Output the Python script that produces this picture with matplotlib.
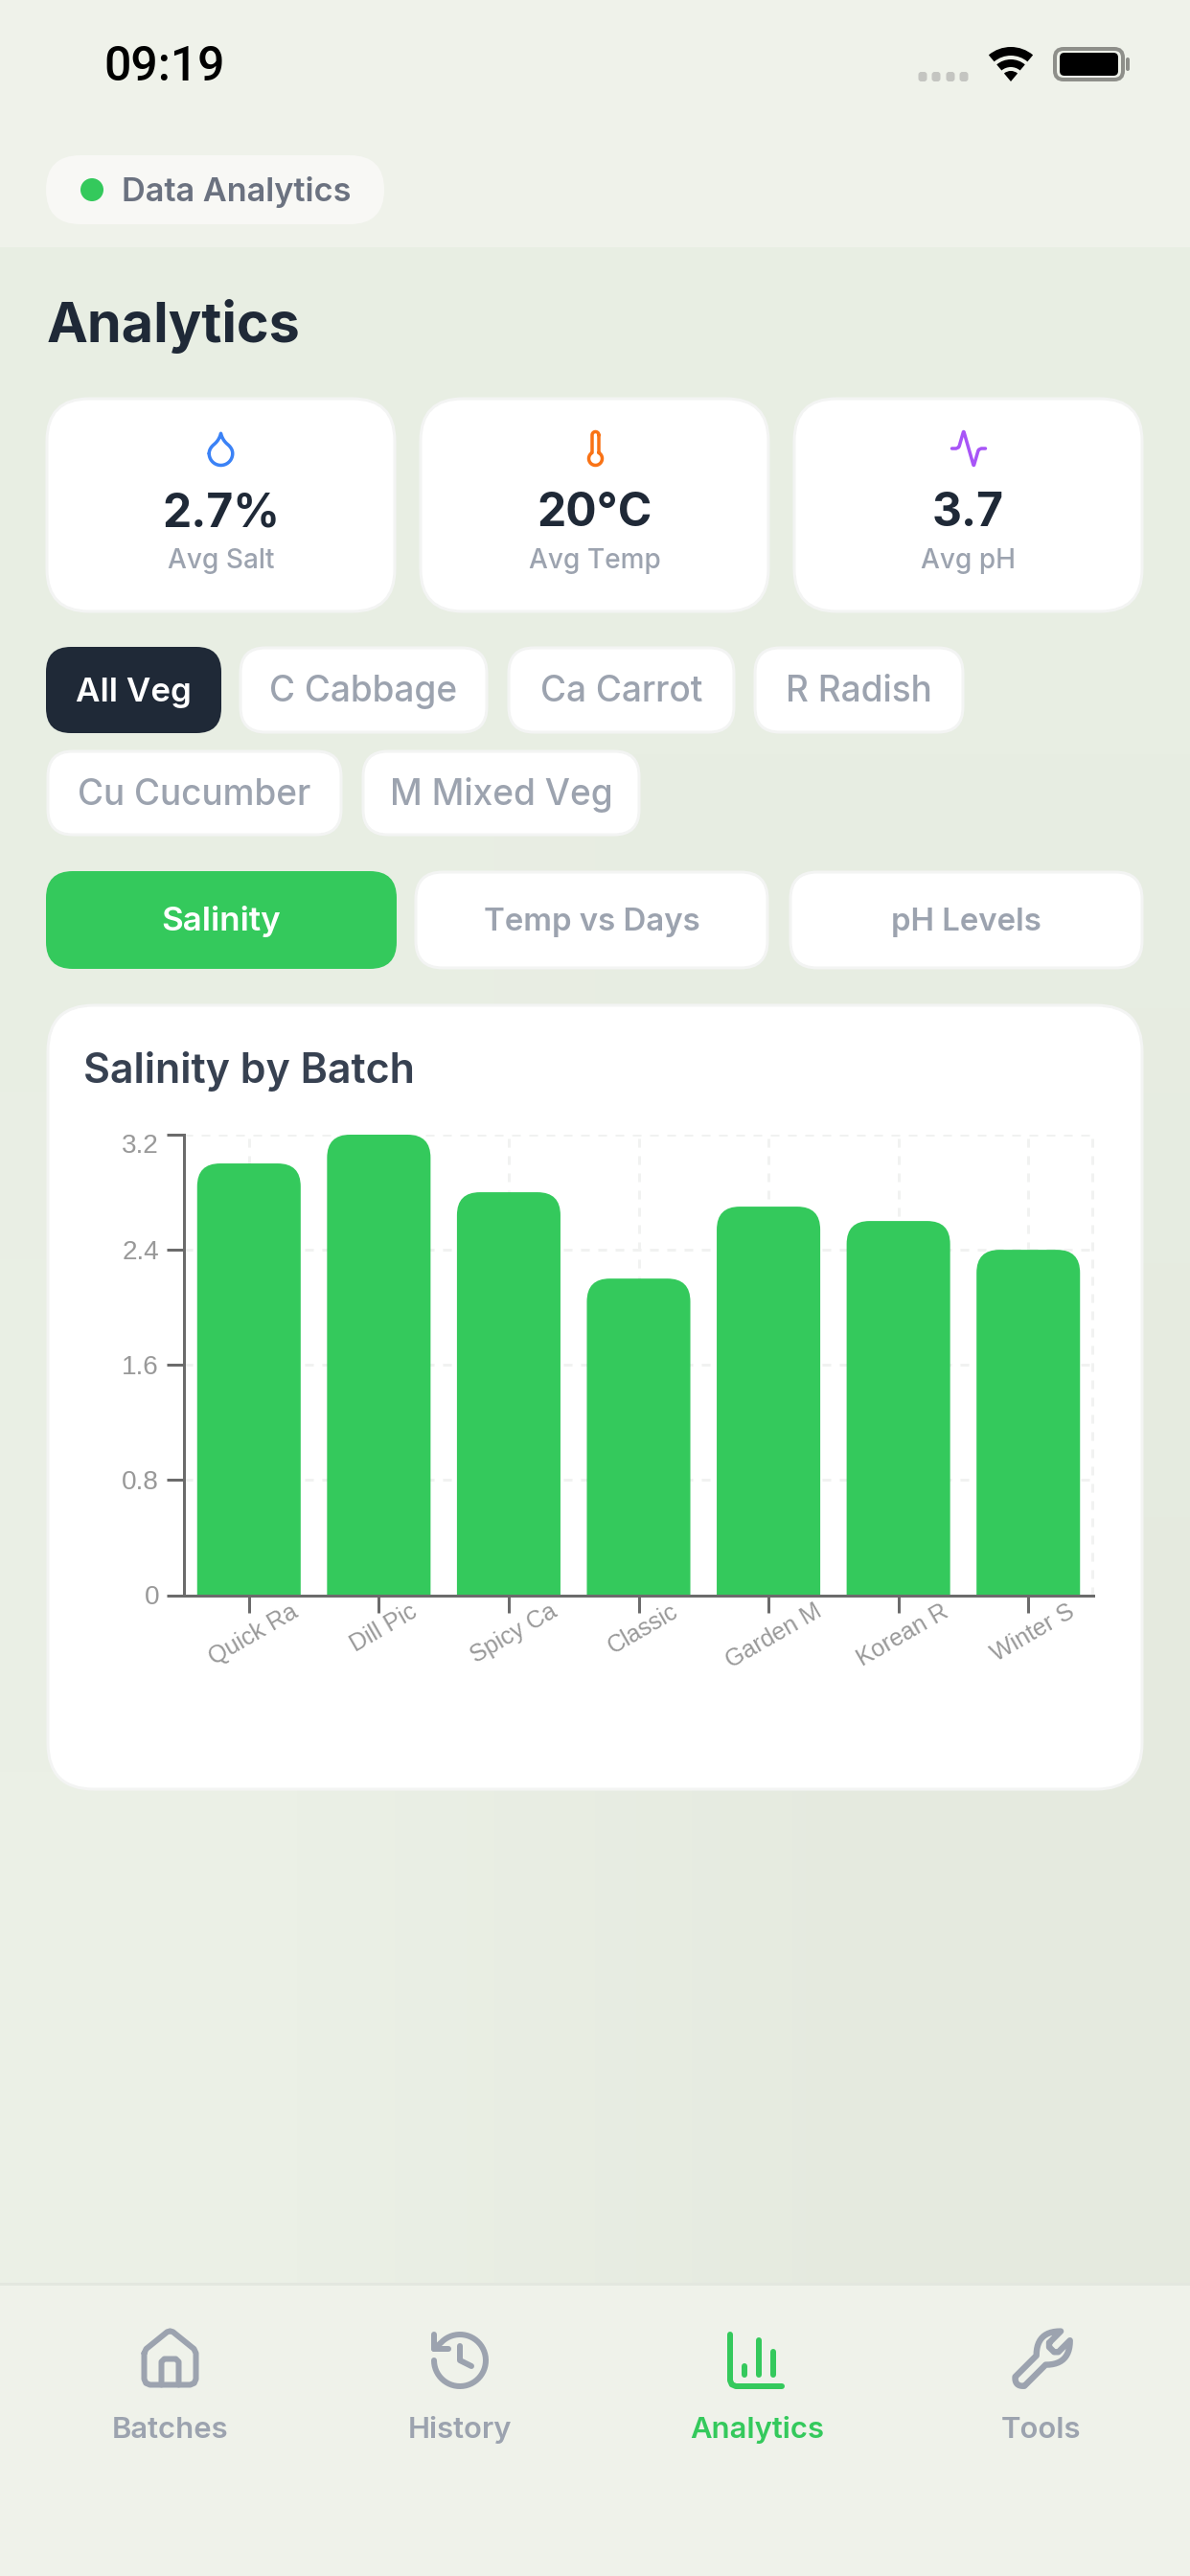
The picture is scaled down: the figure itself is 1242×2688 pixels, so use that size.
import numpy as np
import matplotlib
matplotlib.use('Agg')
import matplotlib.pyplot as plt
from matplotlib.patches import FancyBboxPatch, Circle, Wedge, PathPatch
from matplotlib.path import Path
from matplotlib.transforms import ScaledTranslation

# chart data
batches = ['Quick Ra', 'Dill Pic', 'Spicy Ca', 'Classic', 'Garden M', 'Korean R', 'Winter S']
salinity = [3.0, 3.2, 2.8, 2.2, 2.7, 2.6, 2.4]
y_ticks = [0, 0.8, 1.6, 2.4, 3.2]
y_tick_labels = ['0', '0.8', '1.6', '2.4', '3.2']

# ui text
stat_values = ['2.7%', '20°C', '3.7']
stat_labels = ['Avg Salt', 'Avg Temp', 'Avg pH']
veg_filters = ['All Veg', 'C Cabbage', 'Ca Carrot', 'R Radish', 'Cu Cucumber', 'M Mixed Veg']
chart_tabs = ['Salinity', 'Temp vs Days', 'pH Levels']
nav_labels = ['Batches', 'History', 'Analytics', 'Tools']

GREEN = '#34c95c'
DARK = '#1f2937'
GREY = '#9ca3af'
BORDER = '#f3f4f3'
PX = 0.72  # one pixel in points at dpi 100

plt.rcParams['font.family'] = ['Inter', 'DejaVu Sans']
plt.rcParams['lines.scale_dashes'] = False

fig = plt.figure(figsize=(12.42, 26.88), dpi=100)
bg = fig.add_axes([0, 0, 1, 1])
bg.set_xlim(0, 1242)
bg.set_ylim(2688, 0)
bg.axis('off')


def box(x0, y0, x1, y1, r, fill, edge=None, lw=0, z=2):
    p = FancyBboxPatch((x0, y0), x1 - x0, y1 - y0, boxstyle=f'round,pad=0,rounding_size={r}',
                       fc=fill, ec=edge if edge else 'none', lw=lw * PX, zorder=z)
    bg.add_patch(p)


def label(x, y, s, size, color, weight='normal', ha='center', family=None):
    bg.text(x, y, s, fontsize=size * PX, color=color, fontweight=weight, ha=ha, va='baseline',
            family=family if family else ['Inter', 'DejaVu Sans'], zorder=5)


def icon(paths, x0, y0, s, color):
    for pts in paths:
        pts = np.array(pts)
        bg.plot(x0 + pts[:, 0] * s, y0 + pts[:, 1] * s, color=color, lw=2 * s * PX,
                solid_capstyle='round', solid_joinstyle='round', zorder=5)


def arc(cx, cy, r, a0, a1, n=30):
    a = np.radians(np.linspace(a0, a1, n))
    return list(zip(cx + r * np.cos(a), cy + r * np.sin(a)))


def qbez(p0, c, p1, n=14):
    t = np.linspace(0, 1, n)[:, None]
    p0, c, p1 = np.array(p0), np.array(c), np.array(p1)
    return [tuple(v) for v in (1 - t) ** 2 * p0 + 2 * t * (1 - t) * c + t ** 2 * p1]


# backgrounds
bg.add_patch(plt.Rectangle((0, 0), 1242, 2688, fc='#eff2ea', ec='none', zorder=0))
bg.imshow(np.array([[[232, 238, 227], [232, 238, 227]], [[235, 240, 230], [229, 234, 223]]], dtype=np.uint8),
          extent=(0, 1242, 2382, 258), origin='upper', interpolation='bilinear',
          aspect='auto', zorder=0.5)
bg.set_xlim(0, 1242)
bg.set_ylim(2688, 0)
bg.add_patch(plt.Rectangle((0, 2382), 1242, 3, fc='#e3e7df', ec='none', zorder=1))

# status bar
label(108, 84, '09:19', 50, 'black', weight='medium', ha='left', family=['Roboto'])
for x in [963, 977, 992, 1006]:
    box(x - 4.5, 75, x + 4.5, 85, 3, '#c4c5c1')
bg.add_patch(Wedge((1055, 85), 36, -130, -50, width=9, fc='black', ec='none', zorder=5))
bg.add_patch(Wedge((1055, 85), 23, -130, -50, width=8, fc='black', ec='none', zorder=5))
bg.add_patch(Wedge((1055, 85), 11, -130, -50, fc='black', ec='none', zorder=5))
box(1101, 51, 1172, 83, 9, 'none', edge='#8e8f8a', lw=4)
box(1106, 55, 1167, 79, 5, 'black', z=5)
box(1175, 60, 1179, 74, 2, '#8e8f8a')

# badge
box(48, 162, 401, 234, 36, '#f8f8f5')
bg.add_patch(Circle((96, 198), 12, fc=GREEN, ec='none', zorder=5))
label(127, 210, 'Data Analytics', 34.3, '#6b7280', weight='semibold', ha='left')

label(49, 357, 'Analytics', 57.5, DARK, weight='bold', ha='left')

# stat cards
card_x = [(48, 413), (438, 803), (828, 1193)]
for (x0, x1), v, l in zip(card_x, stat_values, stat_labels):
    box(x0 + 1, 416, x1 - 1, 638, 44, 'white', edge=BORDER, lw=3)
    cx = (x0 + x1) / 2
    label(cx, 549, v, 48, DARK, weight='bold')
    label(cx, 593, l, 28, GREY, weight='medium')

droplet = (arc(12, 15, 7, 180, 0) + qbez((19, 15), (19, 12), (16, 9.5)) + qbez((16, 9.5), (13, 7), (12, 3))
           + qbez((12, 3), (11, 7), (8, 9.5)) + qbez((8, 9.5), (5, 12), (5, 15)))
icon([droplet], 209.5, 447, 1.75, '#3b82f6')
thermo = [(14, 4)] + [(14, 14.54)] + arc(12, 18, 4, -60, 240) + [(10, 4)] + arc(12, 4, 2, 180, 360)
icon([thermo], 600.5, 447, 1.75, '#f97316')
pulse = [(22, 12), (19.5, 12), (18, 12.7), (17.6, 13.5), (15.2, 21.8), (15, 22), (14.8, 21.8), (9.2, 2.2),
         (9, 2), (8.8, 2.2), (6.4, 10.5), (6, 11.3), (4.5, 12), (2, 12)]
icon([pulse], 990, 447, 1.75, '#a855f7')

# veg filter chips
chip_box = [(48, 231, 675, 765), (250, 509, 675, 765), (530, 767, 675, 765), (787, 1006, 675, 765),
            (49, 357, 783, 872), (378, 668, 783, 872)]
for i, (name, (x0, x1, y0, y1)) in enumerate(zip(veg_filters, chip_box)):
    base = 732 if y0 == 675 else 840
    if i == 0:
        box(x0, y0, x1, y1, 26, DARK)
        label((x0 + x1) / 2, base, name, 35, 'white', weight='semibold')
    else:
        box(x0 + 1, y0 + 1, x1 - 1, y1 - 1, 26, 'white', edge=BORDER, lw=3)
        label((x0 + x1) / 2, base, name, 37, GREY, weight='medium')

# chart tabs
tab_x = [(48, 414), (433, 802), (824, 1193)]
for i, (name, (x0, x1)) in enumerate(zip(chart_tabs, tab_x)):
    if i == 0:
        box(x0, 909, x1, 1011, 28, GREEN)
        label((x0 + x1) / 2, 971, name, 35, 'white', weight='semibold')
    else:
        box(x0 + 1, 910, x1 - 1, 1010, 28, 'white', edge=BORDER, lw=3)
        label((x0 + x1) / 2, 971, name, 33, GREY, weight='semibold')

# chart card
box(50, 1049, 1192, 1867, 48, 'white', edge=BORDER, lw=3)
label(87, 1130, 'Salinity by Batch', 43, '#374151', weight='semibold', ha='left')

# bar chart
ax = fig.add_axes([192 / 1242, 1 - 1664.5 / 2688, (1141 - 192) / 1242, 480.5 / 2688], facecolor='none', zorder=3)
x = np.arange(len(batches))
ax.set_xlim(-0.5, len(batches) - 0.5)
ax.set_ylim(0, 3.2)
ax.set_xticks(x)
ax.set_xticklabels(batches)
ax.set_yticks(y_ticks)
ax.set_yticklabels(y_tick_labels)
ax.set_axisbelow(True)
ax.grid(True, color='#f1f2f1', lw=3 * PX, ls=(0, (9 * PX, 9 * PX)))
ax.axvline(len(batches) - 0.51, color='#f1f2f1', lw=3 * PX, ls=(0, (9 * PX, 9 * PX)), zorder=0.5, clip_on=False)

bar_w = 0.797
rx = 24 / 135.6
ry = 24 / 150.0
for xi, v in zip(x, salinity):
    l, r = xi - bar_w / 2, xi + bar_w / 2
    verts = [(l, 0), (l, v - ry), (l, v), (l + rx, v), (r - rx, v), (r, v), (r, v - ry), (r, 0), (l, 0)]
    codes = [Path.MOVETO, Path.LINETO, Path.CURVE3, Path.CURVE3, Path.LINETO, Path.CURVE3, Path.CURVE3,
             Path.LINETO, Path.CLOSEPOLY]
    ax.add_patch(PathPatch(Path(verts, codes), fc=GREEN, ec='none', zorder=2))

for s in ['top', 'right']:
    ax.spines[s].set_visible(False)
for s in ['left', 'bottom']:
    ax.spines[s].set_color('#6b6b6b')
    ax.spines[s].set_linewidth(3 * PX)
    ax.spines[s].set_zorder(4)
ax.tick_params(axis='both', color='#6b6b6b', width=3 * PX, length=18 * PX, labelcolor='#999999')
ax.tick_params(axis='y', pad=8 * PX, labelsize=28 * PX)
ax.tick_params(axis='x', pad=-13 * PX, labelsize=25 * PX)
for t in ax.get_yticklabels() + ax.get_xticklabels():
    t.set_family(['Liberation Sans'])
for t in ax.get_xticklabels():
    t.set_rotation(30)
    t.set_ha('center')
    t.set_va('top')
    t.set_transform(t.get_transform() + ScaledTranslation(5 / 100, 0, fig.dpi_scale_trans))
top = ax.get_yticklabels()[-1]
top.set_transform(top.get_transform() + ScaledTranslation(0, -9 / 100, fig.dpi_scale_trans))

# bottom nav
house = [(3, 10), (3.7, 8.5), (11, 2.6), (12, 2.3), (13, 2.6), (20.3, 8.5), (21, 10), (21, 19), (20.4, 20.4),
         (19, 21), (5, 21), (3.6, 20.4), (3, 19), (3, 10)]
door = [(15, 21), (15, 13), (14, 12), (10, 12), (9, 13), (9, 21)]
icon([house, door], 141.5, 2425.5, 3, GREY)

clock = arc(12, 12, 9, 180, -137, 50) + [(3, 8)]
icon([clock, [(3, 3), (3, 8), (8, 8)], [(12, 7), (12, 12), (16, 14)]], 444, 2427, 3, GREY)

icon([[(3, 3), (3, 19), (3.6, 20.4), (5, 21), (21, 21)], [(18, 17), (18, 9)], [(13, 17), (13, 5)], [(8, 17), (8, 14)]],
     753, 2427, 3, GREEN)

wrench = ([(14.7, 6.3), (14.7, 7.7), (16.3, 9.3), (17.7, 9.3), (21.47, 5.53)]
          + qbez((21.47, 5.53), (21.5, 13.5), (13.53, 13.47)) + [(6.62, 20.38)]
          + qbez((6.62, 20.38), (3.4, 20.6), (3.62, 17.38)) + [(10.53, 10.47)]
          + qbez((10.53, 10.47), (10.5, 2.5), (18.47, 2.53)) + [(14.7, 6.3)])
icon([wrench], 1048, 2424.5, 3.2, GREY)

nav_x = [177.5, 480, 790, 1086]
for i, (name, cx) in enumerate(zip(nav_labels, nav_x)):
    label(cx, 2544, name, 31, GREEN if i == 2 else GREY, weight='semibold')

fig.savefig('out.png', dpi=100)
